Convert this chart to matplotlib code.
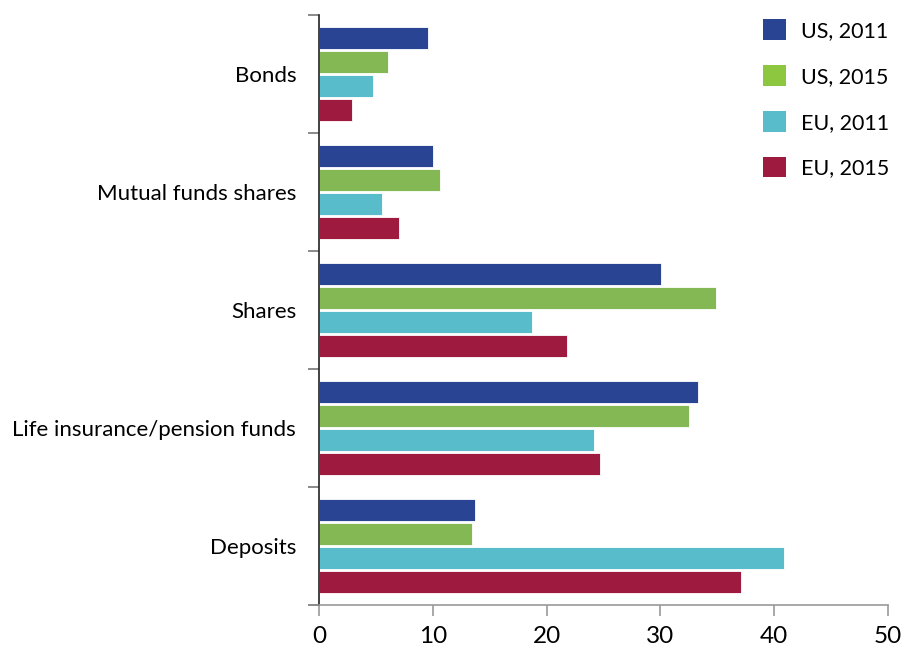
import matplotlib
matplotlib.use("Agg")
import matplotlib.pyplot as plt
from matplotlib.patches import Patch
import numpy as np

categories = ["Bonds", "Mutual funds shares", "Shares", "Life insurance/pension funds", "Deposits"]
series_names = ["US, 2011", "US, 2015", "EU, 2011", "EU, 2015"]
us_2011 = [9.6, 10.0, 30.1, 33.3, 13.7]
us_2015 = [6.1, 10.6, 34.9, 32.5, 13.4]
eu_2011 = [4.7, 5.5, 18.7, 24.2, 40.9]
eu_2015 = [2.9, 7.0, 21.8, 24.7, 37.1]
x_ticks = [0, 10, 20, 30, 40, 50]

bar_colors = ["#2a4494", "#84b854", "#58bccb", "#9e1a3f"]
legend_colors = ["#2a4494", "#8dc63f", "#58bccb", "#9e1a3f"]

plt.rcParams['font.family'] = ['Lato', 'DejaVu Sans']

fig = plt.figure(figsize=(9.04, 6.46), dpi=100)
ax = fig.add_axes([0.353, 0.0635, 0.629, 0.9135])

y = np.arange(len(categories))
pitch = 0.203
height = 0.185
for i, vals in enumerate([us_2011, us_2015, eu_2011, eu_2015]):
    ax.barh(y + (i - 1.5) * pitch, vals, height=height, color=bar_colors[i],
            edgecolor="white", linewidth=0.6)

ax.set_ylim(len(categories) - 0.5, -0.5)
ax.set_xlim(0, 50)
ax.set_xticks(x_ticks)
ax.set_xticklabels([str(t) for t in x_ticks], fontsize=17.5)
ax.set_yticks(y)
ax.set_yticklabels(categories, fontsize=16)
ax.tick_params(axis='y', which='major', length=0, pad=16.5)
ax.set_yticks(np.arange(-0.5, len(categories) + 0.5, 1), minor=True)
ax.tick_params(axis='y', which='minor', length=8, color="#777777", width=1.2)
ax.tick_params(axis='x', length=8, color="#999999", width=1.2, pad=7)

for s in ["top", "right"]:
    ax.spines[s].set_visible(False)
ax.spines["left"].set_color("#222222")
ax.spines["left"].set_linewidth(1.2)
ax.spines["bottom"].set_color("#999999")
ax.spines["bottom"].set_linewidth(1.2)

handles = [Patch(facecolor=c, edgecolor="none") for c in legend_colors]
fig.legend(handles, series_names, loc="upper left",
           bbox_to_anchor=(763 / 904, 1 - 19.5 / 646), bbox_transform=fig.transFigure,
           frameon=False, fontsize=15.5, handlelength=1.08, handleheight=1.08,
           labelspacing=1.13, handletextpad=0.68, borderpad=0, borderaxespad=0)

fig.savefig("out.png", dpi=100)
